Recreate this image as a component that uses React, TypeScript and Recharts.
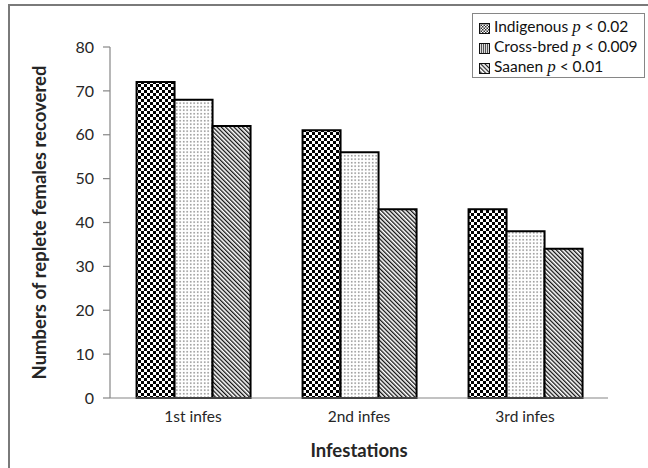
import React from 'react';
import { BarChart, Bar, XAxis, YAxis, Legend } from 'recharts';

const categories = ['1st infes', '2nd infes', '3rd infes'];
const indigenous = [72, 61, 43];
const crossBred = [68, 56, 38];
const saanen = [62, 43, 34];
const yTicks = [0, 10, 20, 30, 40, 50, 60, 70, 80];
const boundaryTicks = [0, 1, 2, 3];

const series = [
  { key: 'indigenous', name: 'Indigenous', p: '< 0.02', fill: 'url(#pChecker)', swatch: 'lChecker' },
  { key: 'crossBred', name: 'Cross-bred', p: '< 0.009', fill: 'url(#pDots)', swatch: 'lLines' },
  { key: 'saanen', name: 'Saanen', p: '< 0.01', fill: 'url(#pDiag)', swatch: 'lDiag' },
];

const data = categories.map((c, i) => ({
  name: c,
  indigenous: indigenous[i],
  crossBred: crossBred[i],
  saanen: saanen[i],
}));

const FONT = 'Lato, "Open Sans", sans-serif';
const AXIS = '#868686';
const TEXT = '#262626';

function Swatch({ id }: { id: string }) {
  return (
    <svg width={11} height={11} style={{ display: 'inline-block', verticalAlign: 'middle', marginRight: 4 }}>
      <defs>
        <pattern id="lChecker" width={3} height={3} patternUnits="userSpaceOnUse">
          <rect width={3} height={3} fill="#fff" />
          <rect width={1.5} height={1.5} fill="#333" />
          <rect x={1.5} y={1.5} width={1.5} height={1.5} fill="#333" />
        </pattern>
        <pattern id="lLines" width={2} height={2} patternUnits="userSpaceOnUse">
          <rect width={2} height={2} fill="#ddd" />
          <rect width={1} height={2} fill="#555" />
        </pattern>
        <pattern id="lDiag" width={3} height={3} patternUnits="userSpaceOnUse" patternTransform="rotate(-45)">
          <rect width={3} height={3} fill="#fff" />
          <rect width={1.2} height={3} fill="#222" />
        </pattern>
      </defs>
      <rect x={0.5} y={0.5} width={10} height={10} fill={`url(#${id})`} stroke="#111" strokeWidth={1} />
    </svg>
  );
}

function LegendBox() {
  return (
    <div
      style={{
        border: `1.5px solid ${AXIS}`,
        background: '#fff',
        padding: '2px 6px 3px 6px',
        fontFamily: FONT,
        fontSize: 15.5,
        color: '#111',
        boxSizing: 'border-box',
        width: 173,
        height: 65,
      }}
    >
      {series.map((s) => (
        <div key={s.key} style={{ height: 20, lineHeight: '20px', whiteSpace: 'nowrap' }}>
          <Swatch id={s.swatch} />
          {s.name}{' '}
          <i style={{ fontFamily: '"Liberation Serif", serif', fontSize: 17 }}>p</i> {s.p}
        </div>
      ))}
    </div>
  );
}

export default function App() {
  return (
    <div style={{ position: 'absolute', left: 0, top: 0, width: 648, height: 468, background: '#fff' }}>
      <div
        style={{
          position: 'absolute',
          left: 8,
          top: 4,
          right: 0,
          bottom: 0,
          borderLeft: '2px solid #7a7a7a',
          borderTop: '2px solid #7a7a7a',
        }}
      />
      <BarChart
        width={648}
        height={468}
        data={data}
        margin={{ top: 47, right: 40, bottom: 0, left: 0 }}
        barCategoryGap="16%"
        barGap={0}
        style={{ position: 'absolute', left: 0, top: 0 }}
      >
        <defs>
          <pattern id="pChecker" width={6} height={6} patternUnits="userSpaceOnUse">
            <rect width={6} height={6} fill="#fff" />
            <rect width={3} height={3} fill="#000" />
            <rect x={3} y={3} width={3} height={3} fill="#000" />
          </pattern>
          <pattern id="pDots" width={3.5} height={3.5} patternUnits="userSpaceOnUse">
            <rect width={3.5} height={3.5} fill="#fff" />
            <rect x={1} y={1} width={1.4} height={1.4} fill="#777" />
          </pattern>
          <pattern id="pDiag" width={3} height={3} patternUnits="userSpaceOnUse" patternTransform="rotate(-45)">
            <rect width={3} height={3} fill="#fff" />
            <rect width={1.3} height={3} fill="#111" />
          </pattern>
        </defs>
        <XAxis
          xAxisId="bounds"
          type="number"
          domain={[0, 3]}
          ticks={boundaryTicks}
          tick={false}
          tickSize={7}
          height={8}
          stroke={AXIS}
          axisLine={{ stroke: AXIS, strokeWidth: 1.2 }}
          tickLine={{ stroke: AXIS, strokeWidth: 1.2 }}
        />
        <XAxis
          xAxisId="cat"
          dataKey="name"
          axisLine={false}
          tickLine={false}
          tickSize={0}
          tickMargin={5}
          height={62}
          tick={{ fill: TEXT, fontSize: 15.5, fontFamily: FONT }}
          label={{
            value: 'Infestations',
            position: 'insideBottom',
            offset: 11,
            fill: TEXT,
            fontSize: 18.5,
            fontWeight: 700,
            fontFamily: FONT,
          }}
        />
        <YAxis
          width={110}
          domain={[0, 80]}
          ticks={yTicks}
          interval={0}
          tickSize={7}
          tickMargin={9}
          axisLine={{ stroke: AXIS, strokeWidth: 1.2 }}
          tickLine={{ stroke: AXIS, strokeWidth: 1.2 }}
          tick={{ fill: TEXT, fontSize: 16, fontFamily: FONT }}
          label={{
            value: 'Numbers of replete females recovered',
            angle: -90,
            position: 'center',
            dx: -16,
            fill: TEXT,
            fontSize: 18.5,
            fontWeight: 700,
            fontFamily: FONT,
          }}
        />
        <Legend
          layout="vertical"
          align="center"
          verticalAlign="middle"
          content={() => <LegendBox />}
          wrapperStyle={{ left: 472, top: 13, width: 173, height: 65 }}
        />
        {series.map((s) => (
          <Bar
            key={s.key}
            xAxisId="cat"
            dataKey={s.key}
            name={s.name}
            fill={s.fill}
            stroke="#000"
            strokeWidth={2}
            isAnimationActive={false}
          />
        ))}
      </BarChart>
    </div>
  );
}
